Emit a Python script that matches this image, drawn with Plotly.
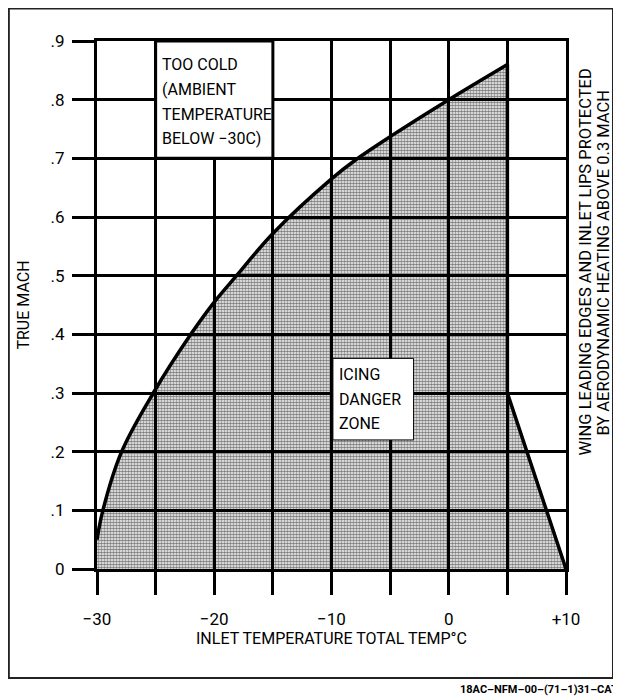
import plotly.graph_objects as go

# ---- data ----
curve_temp = [-30.0, -29.5, -27.9, -25.2, -22.0, -20.0, -18.1, -15.0, -10.0, -7.9, -5.0, 0.0, 5.0]
curve_mach = [0.05, 0.10, 0.20, 0.30, 0.40, 0.455, 0.50, 0.572, 0.665, 0.698, 0.737, 0.80, 0.86]

edge_temp = [5.0, 5.0, 10.0]
edge_mach = [0.86, 0.30, 0.0]

x_tickvals = [-30, -25, -20, -15, -10, -5, 0, 5, 10]
x_ticktext = ["\u221230", "", "\u221220", "", "\u221210", "", "0", "", "+10"]
y_tickvals = [0, 0.1, 0.2, 0.3, 0.4, 0.5, 0.6, 0.7, 0.8, 0.9]
y_ticktext = ["0", ".1", ".2", ".3", ".4", ".5", ".6", ".7", ".8", ".9"]

too_cold_lines = ["TOO COLD", "(AMBIENT", "TEMPERATURE", "BELOW \u221230C)"]
too_cold_y = [0.860, 0.818, 0.775, 0.734]
icing_lines = ["ICING", "DANGER", "ZONE"]
icing_y = [0.3315, 0.2897, 0.2488]
side_lines = ["WING LEADING EDGES AND INLET LIPS PROTECTED", "BY AERODYNAMIC HEATING ABOVE 0.3 MACH"]
side_x = [1.0412, 1.0795]

FONT = "Roboto, Liberation Sans, Arial, sans-serif"
TXT = dict(family=FONT, size=16, color="black")
pattern = dict(shape=".", fgcolor="black", bgcolor="rgba(0,0,0,0)", size=3, solidity=0.65)

fig = go.Figure()
fig.add_trace(go.Scatter(
    x=curve_temp, y=curve_mach, mode="lines",
    line=dict(color="black", width=3.5, shape="spline", smoothing=1.0),
    fill="tozeroy", fillcolor="black", fillpattern=pattern,
    hoverinfo="skip", showlegend=False))
fig.add_trace(go.Scatter(
    x=edge_temp, y=edge_mach, mode="lines",
    line=dict(color="black", width=3.5),
    fill="tozeroy", fillcolor="black", fillpattern=pattern,
    hoverinfo="skip", showlegend=False))

axis_common = dict(
    showgrid=True, gridcolor="black", gridwidth=3,
    showline=True, linecolor="black", linewidth=3, mirror=True,
    ticks="outside", tickcolor="black", tickwidth=3,
    zeroline=False, tickfont=dict(family=FONT, size=17, color="black"),
)

fig.update_xaxes(range=[-30, 10], tickmode="array", tickvals=x_tickvals, ticktext=x_ticktext,
                 ticklen=23, ticklabelstandoff=10,
                 title=dict(text="INLET TEMPERATURE TOTAL TEMP\u00b0C", font=TXT, standoff=2),
                 **axis_common)
fig.update_yaxes(range=[0, 0.9], tickmode="array", tickvals=y_tickvals, ticktext=y_ticktext,
                 ticklen=22, ticklabelstandoff=4,
                 title=dict(text="TRUE MACH", font=TXT, standoff=17),
                 **axis_common)

shapes = [
    # TOO COLD box (white cell block)
    dict(type="rect", xref="x", yref="y", x0=-25, x1=-15, y0=0.7, y1=0.9,
         fillcolor="white", line=dict(color="black", width=3), layer="above"),
    # ICING DANGER ZONE box
    dict(type="rect", xref="x", yref="y", x0=-9.88, x1=-3.0, y0=0.220, y1=0.359,
         fillcolor="white", line=dict(color="black", width=1), layer="above"),
    # outer border
    dict(type="rect", xref="paper", yref="paper", x0=-0.188, x1=1.1002, y0=-0.2064, y1=1.0616,
         fillcolor="rgba(0,0,0,0)", line=dict(color="#222", width=2), layer="above"),
]

annotations = []
for t, yv in zip(too_cold_lines, too_cold_y):
    annotations.append(dict(xref="x", yref="y", x=-24.6, y=yv, xanchor="left", yanchor="middle",
                            text=t, showarrow=False, font=TXT))
for t, yv in zip(icing_lines, icing_y):
    annotations.append(dict(xref="x", yref="y", x=-9.53, y=yv, xanchor="left", yanchor="middle",
                            text=t, showarrow=False, font=TXT))
for t, xv in zip(side_lines, side_x):
    annotations.append(dict(xref="paper", yref="paper", x=xv, y=0.581, xanchor="center", yanchor="middle",
                            text=t, textangle=-90, showarrow=False,
                            font=dict(family=FONT, size=16.5, color="black")))
annotations.append(dict(xref="paper", yref="paper", x=1.1158, y=-0.2273, xanchor="right", yanchor="middle",
                        text="<b>18AC\u2013NFM\u201300\u2013(71\u20131)31\u2013CAT</b>", showarrow=False,
                        font=dict(family=FONT, size=11, color="black")))

fig.update_layout(
    width=613, height=692,
    margin=dict(l=89, r=55, t=33, b=131),
    paper_bgcolor="white", plot_bgcolor="white",
    shapes=shapes, annotations=annotations,
    showlegend=False,
)

fig.write_html("out.html")
